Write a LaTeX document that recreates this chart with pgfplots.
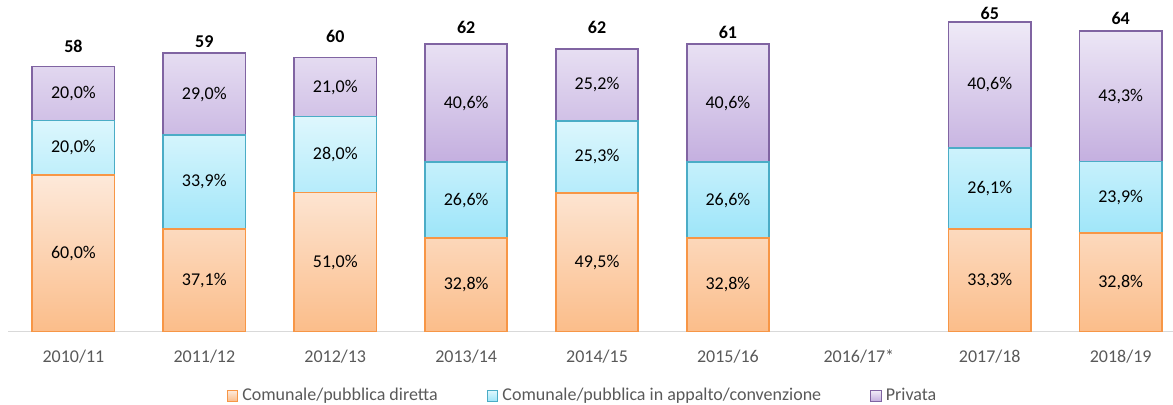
\documentclass[border=0pt]{standalone}
\usepackage{pgfplots}
\pgfplotsset{compat=1.18}
\usepackage{pgfplotstable}
\usepackage{fontspec}
\setmainfont{Carlito}

\definecolor{oEdge}{HTML}{F79646}
\definecolor{oTop}{HTML}{FDE9DA}
\definecolor{oBot}{HTML}{FBBD8A}
\definecolor{cEdge}{HTML}{4BACC6}
\definecolor{cTop}{HTML}{DEF7FD}
\definecolor{cBot}{HTML}{9DE5F9}
\definecolor{pEdge}{HTML}{8064A2}
\definecolor{pTop}{HTML}{EFEAF7}
\definecolor{pBot}{HTML}{C4AFDF}
\definecolor{axgrey}{HTML}{D9D9D9}
\definecolor{txtgrey}{HTML}{595959}

% segment heights (same units as the totals) and their percentage labels
\pgfplotstableread{
x o ol
0 34.24 60,0
1 22.42 37,1
2 30.37 51,0
3 20.39 32,8
4 30.30 49,5
5 20.39 32,8
7 22.36 33,3
8 21.48 32,8
}\diretta
\pgfplotstableread{
x c cl
0 11.88 20,0
1 20.56 33,9
2 16.63 28,0
3 16.69 26,6
4 15.75 25,3
5 16.69 26,6
7 17.79 26,1
8 15.66 23,9
}\appalto
\pgfplotstableread{
x p pl
0 11.81 20,0
1 17.87 29,0
2 12.91 21,0
3 25.75 40,6
4 15.75 25,2
5 25.75 40,6
7 27.57 40,6
8 28.59 43,3
}\privata
\pgfplotstableread{
x t
0 58
1 59
2 60
3 62
4 62
5 61
7 65
8 64
}\totali

\pgfplotsset{
  common/.style={
    scale only axis, width=582.5pt, height=165.75pt,
    xmin=-0.5, xmax=8.4, ymin=0, ymax=72.5, clip=false,
  },
  seg/.style={
    line width=0.8pt,
    nodes near coords={\pgfplotspointmeta\%},
    point meta=explicit symbolic,
    every node near coord/.append style={anchor=center, text=black,
      font=\fontsize{9}{11}\selectfont},
  },
}

\begin{document}
\begin{tikzpicture}
\begin{axis}[common,
  ybar stacked, bar width=41.15pt,
  axis x line*=bottom, axis y line=none,
  x axis line style={draw=axgrey, line width=0.7pt, -},
  xtick={0,1,2,3,4,5,6,7,8},
  xticklabels={2010/11,2011/12,2012/13,2013/14,2014/15,2015/16,2016/17*,2017/18,2018/19},
  major tick length=0pt,
  xticklabel style={anchor=center, yshift=-12.5pt, text=txtgrey, font=\fontsize{9}{11}\selectfont},
  ytick=\empty,
  legend columns=3,
  legend style={at={(0.494,-0.1946)}, anchor=center, draw=none, fill=none,
    font=\fontsize{9}{11}\selectfont, text=txtgrey,
    /tikz/every even column/.append style={column sep=22.5pt}},
  legend image code/.code={\draw[#1, line width=0.6pt] (0pt,-2.6pt) rectangle (5.2pt,2.6pt);},
]
\coordinate (sw) at (rel axis cs:0,0);
\coordinate (ne) at (rel axis cs:1,1);
\addplot[seg, draw=oEdge, top color=oTop, bottom color=oBot]
  table[x=x, y=o, meta=ol]{\diretta};
\addlegendentry{Comunale/pubblica diretta}
\addplot[seg, draw=cEdge, top color=cTop, bottom color=cBot]
  table[x=x, y=c, meta=cl]{\appalto};
\addlegendentry{Comunale/pubblica in appalto/convenzione}
\addplot[seg, draw=pEdge, top color=pTop, bottom color=pBot]
  table[x=x, y=p, meta=pl]{\privata};
\addlegendentry{Privata}
\end{axis}
\begin{axis}[common, hide axis]
\addplot[draw=none, mark=none,
  nodes near coords={\textbf{\pgfplotspointmeta}},
  point meta=explicit symbolic,
  every node near coord/.append style={anchor=center, yshift=10.2pt, text=black,
    font=\fontsize{9}{11}\selectfont}]
  table[x=x, y=t, meta=t]{\totali};
\end{axis}
\pgfresetboundingbox
\path ([shift={(-4pt,-36.75pt)}]sw) rectangle (ne);
\end{tikzpicture}
\end{document}
